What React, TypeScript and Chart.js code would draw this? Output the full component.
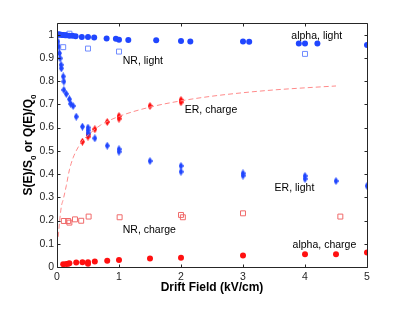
import React, { useEffect, useRef } from "react";
import { Chart, registerables } from "chart.js";

Chart.register(...registerables);

// ---- data ----
const xTicks = [0, 1, 2, 3, 4, 5];
const yTicks = [0, 0.1, 0.2, 0.3, 0.4, 0.5, 0.6, 0.7, 0.8, 0.9, 1];

const alphaLightX = [0.01, 0.03, 0.05, 0.08, 0.1, 0.13, 0.15, 0.2, 0.25, 0.3, 0.4, 0.5, 0.6, 0.8, 0.95, 1.0, 1.15, 1.6, 2.0, 2.15, 3.0, 3.1, 3.9, 4.0, 4.2, 5.0];
const alphaLightY = [1.0, 1.0, 1.0, 0.998, 0.998, 0.997, 0.997, 0.995, 0.995, 0.993, 0.99, 0.99, 0.988, 0.983, 0.982, 0.978, 0.977, 0.976, 0.973, 0.97, 0.97, 0.969, 0.962, 0.962, 0.962, 0.955];

const nrLightX = [0.01, 0.1, 0.2, 0.5, 1.0, 4.0];
const nrLightY = [1.0, 0.946, 1.004, 0.94, 0.927, 0.917];

const erLightX = [0.016, 0.03, 0.04, 0.05, 0.065, 0.07, 0.1, 0.11, 0.11, 0.15, 0.2, 0.22, 0.26, 0.31, 0.41, 0.5, 0.5, 0.5, 0.61, 0.81, 1.0, 1.0, 1.5, 2.0, 2.0, 3.0, 3.0, 4.0, 4.0, 4.5, 5.0];
const erLightY = [0.97, 0.948, 0.92, 0.898, 0.87, 0.855, 0.82, 0.798, 0.762, 0.745, 0.722, 0.702, 0.693, 0.647, 0.604, 0.6, 0.588, 0.576, 0.554, 0.522, 0.507, 0.496, 0.456, 0.435, 0.41, 0.403, 0.393, 0.392, 0.379, 0.37, 0.349];

const erChargeX = [0.41, 0.5, 0.5, 0.61, 0.81, 1.0, 1.0, 1.5, 2.0, 2.0];
const erChargeY = [0.539, 0.561, 0.57, 0.593, 0.624, 0.65, 0.638, 0.693, 0.719, 0.709];

const erFitX = [0.02, 0.04, 0.07, 0.1, 0.15, 0.2, 0.26, 0.31, 0.4, 0.5, 0.7, 1.0, 1.5, 2.0, 2.5, 3.0, 3.5, 4.0, 4.5];
const erFitY = [0.13, 0.19, 0.26, 0.29, 0.35, 0.418, 0.47, 0.5, 0.54, 0.567, 0.61, 0.648, 0.688, 0.715, 0.735, 0.75, 0.762, 0.771, 0.779];

const nrChargeX = [0.11, 0.18, 0.2, 0.29, 0.39, 0.51, 1.01, 2.0, 2.03, 3.0, 4.57];
const nrChargeY = [0.198, 0.198, 0.191, 0.205, 0.199, 0.217, 0.214, 0.224, 0.214, 0.231, 0.217];

const alphaChargeX = [0.1, 0.15, 0.18, 0.2, 0.31, 0.41, 0.5, 0.5, 0.61, 0.81, 1.0, 1.5, 2.0, 3.0, 4.0, 4.5, 5.0];
const alphaChargeY = [0.012, 0.013, 0.014, 0.016, 0.019, 0.02, 0.02, 0.014, 0.024, 0.027, 0.03, 0.037, 0.04, 0.049, 0.055, 0.055, 0.062];

const labelTexts = ["alpha, light", "NR, light", "ER, charge", "ER, light", "NR, charge", "alpha, charge"];
const labelX = [3.78, 1.06, 2.06, 3.51, 1.06, 3.8];
const labelY = [0.995, 0.885, 0.675, 0.34, 0.16, 0.095];

const xTitle = "Drift Field (kV/cm)";
const yTitleParts = ["S(E)/S", "0", " or Q(E)/Q", "0"];

const FONT = "'Liberation Sans', Arial, Helvetica, sans-serif";
const BLUE = "#2046ff";
const RED = "#ff1010";
const LBLUE = "#6f8bff";
const LRED = "#f06a6a";
const AXIS = "#262626";

function pts(xs: number[], ys: number[]) {
  return xs.map((x, i) => ({ x, y: ys[i] }));
}

function makeDiamond(color: string) {
  const c = document.createElement("canvas");
  const w = 5, h = 8;
  c.width = w;
  c.height = h;
  const g = c.getContext("2d")!;
  g.fillStyle = color;
  g.beginPath();
  g.moveTo(w / 2, 0);
  g.lineTo(w, h / 2);
  g.lineTo(w / 2, h);
  g.lineTo(0, h / 2);
  g.closePath();
  g.fill();
  return c;
}

const framePlugin = {
  id: "frame",
  afterDraw(chart: any) {
    const { ctx, chartArea: a, scales } = chart;
    const xs = scales.x, ys = scales.y;
    ctx.save();
    ctx.setLineDash([]);
    ctx.globalAlpha = 1;
    ctx.strokeStyle = AXIS;
    ctx.lineWidth = 1;
    const L = Math.round(a.left) + 0.5;
    const R = Math.round(a.right) + 0.5;
    const T = Math.round(a.top) + 0.5;
    const B = Math.round(a.bottom) + 0.5;
    ctx.beginPath();
    ctx.moveTo(L, T);
    ctx.lineTo(R, T);
    ctx.lineTo(R, B);
    ctx.lineTo(L, B);
    ctx.closePath();
    const tl = 3;
    xTicks.forEach((v) => {
      const px = Math.round(xs.getPixelForValue(v)) + 0.5;
      ctx.moveTo(px, B);
      ctx.lineTo(px, B - tl);
      ctx.moveTo(px, T);
      ctx.lineTo(px, T + tl);
    });
    yTicks.forEach((v) => {
      const py = Math.round(ys.getPixelForValue(v)) + 0.5;
      ctx.moveTo(L, py);
      ctx.lineTo(L + tl, py);
      ctx.moveTo(R, py);
      ctx.lineTo(R - tl, py);
    });
    ctx.stroke();

    // annotations
    ctx.fillStyle = "#000";
    ctx.font = `10.5px ${FONT}`;
    ctx.textBaseline = "middle";
    ctx.textAlign = "left";
    labelTexts.forEach((t, i) => {
      ctx.fillText(t, xs.getPixelForValue(labelX[i]), ys.getPixelForValue(labelY[i]));
    });

    // y-axis title with subscripts
    const big = `bold 12px ${FONT}`;
    const small = `bold 8px ${FONT}`;
    let total = 0;
    const widths = yTitleParts.map((p, i) => {
      ctx.font = i % 2 === 1 ? small : big;
      const w = ctx.measureText(p).width;
      total += w;
      return w;
    });
    ctx.translate(28.5, (a.top + a.bottom) / 2);
    ctx.rotate(-Math.PI / 2);
    ctx.fillStyle = "#000";
    let cx = -total / 2;
    yTitleParts.forEach((p, i) => {
      const sub = i % 2 === 1;
      ctx.font = sub ? small : big;
      ctx.fillText(p, cx, sub ? 5 : 0);
      cx += widths[i];
    });
    ctx.restore();
  },
};

export default function App() {
  const ref = useRef<HTMLCanvasElement>(null);
  useEffect(() => {
    if (!ref.current) return;
    const dBlue = makeDiamond(BLUE);
    const dRed = makeDiamond(RED);
    const chart = new Chart(ref.current, {
      type: "scatter",
      data: {
        datasets: [
          {
            label: "ER charge fit",
            data: pts(erFitX, erFitY),
            showLine: true,
            borderColor: "#ff8a8a",
            borderWidth: 1,
            borderDash: [5, 3],
            pointRadius: 0,
            cubicInterpolationMode: "monotone",
            fill: false,
          } as any,
          {
            label: "alpha, light",
            data: pts(alphaLightX, alphaLightY),
            pointStyle: "circle",
            pointRadius: 3,
            backgroundColor: BLUE,
            borderColor: BLUE,
            borderWidth: 0,
          },
          {
            label: "NR, light",
            data: pts(nrLightX, nrLightY),
            pointStyle: "rect",
            pointRadius: 3.5,
            backgroundColor: "rgba(0,0,0,0)",
            borderColor: LBLUE,
            borderWidth: 1,
          },
          {
            label: "ER, light",
            data: pts(erLightX, erLightY),
            pointStyle: dBlue as any,
            pointRadius: 3,
          },
          {
            label: "ER, charge",
            data: pts(erChargeX, erChargeY),
            pointStyle: dRed as any,
            pointRadius: 3,
          },
          {
            label: "NR, charge",
            data: pts(nrChargeX, nrChargeY),
            pointStyle: "rect",
            pointRadius: 3.5,
            backgroundColor: "rgba(0,0,0,0)",
            borderColor: LRED,
            borderWidth: 1,
          },
          {
            label: "alpha, charge",
            data: pts(alphaChargeX, alphaChargeY),
            pointStyle: "circle",
            pointRadius: 3,
            backgroundColor: RED,
            borderColor: RED,
            borderWidth: 0,
          },
        ],
      },
      options: {
        animation: false,
        responsive: true,
        maintainAspectRatio: false,
        layout: { padding: { left: 0, right: 48, top: 23, bottom: 0 } },
        plugins: { legend: { display: false }, tooltip: { enabled: false } },
        scales: {
          x: {
            type: "linear",
            min: 0,
            max: 5,
            grid: { display: false, drawTicks: false, tickLength: 0 },
            border: { display: false },
            afterFit: (s: any) => {
              s.height = 46;
            },
            afterBuildTicks: (s: any) => {
              s.ticks = xTicks.map((v) => ({ value: v }));
            },
            ticks: {
              stepSize: 1,
              padding: 4,
              color: AXIS,
              font: { family: FONT, size: 10.5 },
              maxRotation: 0,
              callback: (v: any) => String(v),
            },
            title: {
              display: true,
              text: xTitle,
              color: "#000",
              font: { family: FONT, size: 12, weight: "bold" },
              padding: { top: 0, bottom: 18.5 },
            },
          },
          y: {
            type: "linear",
            min: 0,
            max: 1.05,
            grid: { display: false, drawTicks: false, tickLength: 0 },
            border: { display: false },
            afterFit: (s: any) => {
              s.width = 57;
            },
            afterBuildTicks: (s: any) => {
              s.ticks = yTicks.map((v) => ({ value: v }));
            },
            ticks: {
              stepSize: 0.1,
              padding: 3,
              color: AXIS,
              font: { family: FONT, size: 10.5 },
              callback: (v: any) => String(v),
            },
          },
        },
      },
      plugins: [framePlugin],
    });
    return () => chart.destroy();
  }, []);
  return (
    <div style={{ position: "fixed", left: 0, top: 0, width: 415, height: 313, background: "#fff" }}>
      <canvas ref={ref} />
    </div>
  );
}
